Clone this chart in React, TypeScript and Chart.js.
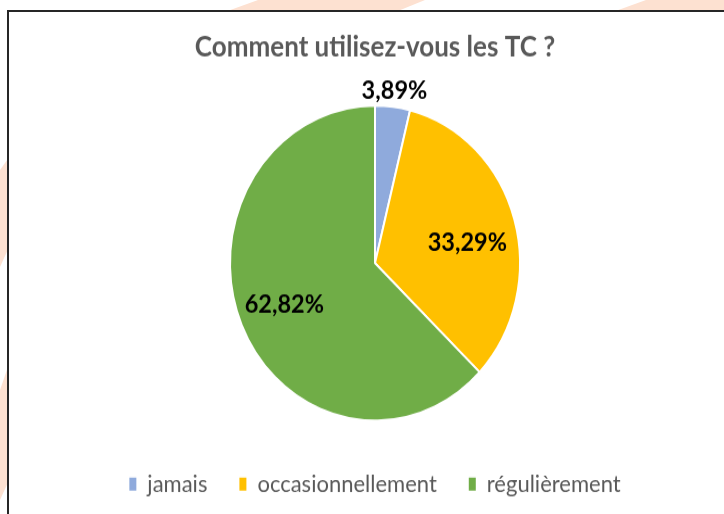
import React, { useEffect, useRef } from "react";
import { Chart, registerables } from "chart.js";

Chart.register(...registerables);

const TITLE = "Comment utilisez-vous les TC ?";
const CATEGORIES = ["jamais", "occasionnellement", "régulièrement"];
const VALUES = [3.89, 33.29, 62.82];
const COLORS = ["#8FAADC", "#FFC000", "#70AD47"];

const STRETCH = 1.086;
const CANVAS_W = 724;
const CANVAS_H = 474;

// placement of each slice label: fraction of the outer radius, and angular shift (degrees)
const LABEL_RADIAL = [1.1, 0.65, 0.68];
const LABEL_SHIFT = [0, 4.3, 0];

const fmt = (v: number) => v.toFixed(2).replace(".", ",") + "%";

const sliceLabels = {
  id: "sliceLabels",
  afterDatasetsDraw(chart: any) {
    const meta = chart.getDatasetMeta(0);
    const ctx = chart.ctx as CanvasRenderingContext2D;
    ctx.save();
    ctx.font = "bold 23.5px Lato";
    ctx.fillStyle = "#000000";
    ctx.textAlign = "center";
    ctx.textBaseline = "middle";
    meta.data.forEach((arc: any, i: number) => {
      const p = arc.getProps(["x", "y", "startAngle", "endAngle", "outerRadius"], true);
      const mid = (p.startAngle + p.endAngle) / 2 + (LABEL_SHIFT[i] * Math.PI) / 180;
      const r = p.outerRadius * LABEL_RADIAL[i];
      ctx.fillText(fmt(VALUES[i]), p.x + Math.cos(mid) * r, p.y + Math.sin(mid) * r);
    });
    ctx.restore();
  },
};

export default function App() {
  const ref = useRef<HTMLCanvasElement | null>(null);

  useEffect(() => {
    if (!ref.current) return;
    const chart = new Chart(ref.current, {
      type: "pie",
      data: {
        labels: CATEGORIES,
        datasets: [
          {
            data: VALUES,
            backgroundColor: COLORS,
            borderColor: "#ffffff",
            borderWidth: 2,
          },
        ],
      },
      options: {
        animation: false,
        responsive: true,
        maintainAspectRatio: false,
        events: [],
        radius: 145,
        layout: { padding: { left: 26, right: 0, top: 0, bottom: 7.3 } },
        plugins: {
          tooltip: { enabled: false },
          title: {
            display: true,
            text: TITLE,
            color: "#595959",
            font: { family: "Lato", size: 26, weight: "bold" },
            padding: { top: 27.7, bottom: 22.8 },
          },
          legend: {
            display: true,
            position: "bottom",
            labels: {
              color: "#595959",
              font: { family: "Lato", size: 22 },
              boxWidth: 7,
              boxHeight: 12,
              padding: 32,
              generateLabels: (c: any) =>
                (Chart as any).overrides.pie.plugins.legend.labels
                  .generateLabels(c)
                  .map((l: any) => ({ ...l, lineWidth: 0, strokeStyle: "transparent" })),
            },
          },
        },
      } as any,
      plugins: [sliceLabels],
    });
    return () => chart.destroy();
  }, []);

  return (
    <div
      style={{
        position: "fixed",
        left: 0,
        top: 0,
        width: 724,
        height: 514,
        overflow: "hidden",
        background: "#ffffff",
      }}
    >
      <svg
        width={724}
        height={514}
        style={{ position: "absolute", left: 0, top: 0 }}
      >
        <polygon points="222,13 258,0 425,0 393,13" fill="#fde1d1" />
        <polygon points="610,13 646,0 724,0 724,13" fill="#fde1d1" />
        <polygon points="0,170 10,156 10,245 0,267" fill="#fde1d1" />
        <polygon points="0,390 10,361 10,478 0,500" fill="#fde1d1" />
      </svg>
      <div
        style={{
          position: "absolute",
          left: 7,
          top: 10,
          width: 740,
          height: 520,
          borderTop: "2px solid #262626",
          borderLeft: "2px solid #262626",
          background: "#ffffff",
        }}
      />
      <div
        style={{
          position: "absolute",
          left: 0,
          top: 0,
          width: CANVAS_W,
          height: CANVAS_H,
          transform: `scaleY(${STRETCH})`,
          transformOrigin: "0 0",
        }}
      >
        <canvas ref={ref} />
      </div>
    </div>
  );
}
